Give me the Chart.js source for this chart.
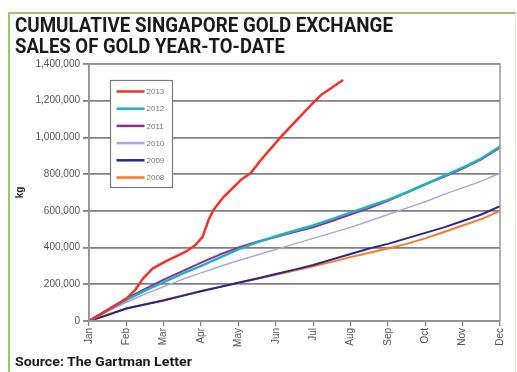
<!DOCTYPE html>
<html>
<head>
<meta charset="utf-8">
<script src="https://cdn.jsdelivr.net/npm/chart.js@4.4.1/dist/chart.umd.min.js"></script>
<style>
html, body { margin: 0; padding: 0; background: #fff; }
body { width: 517px; height: 372px; position: relative; overflow: hidden; }
#frame { position: absolute; left: 8px; top: 12px; width: 508px; height: 400px;
  border-top: 2px solid #9cc66b; border-left: 2px solid #9cc66b; border-right: 1px solid #dde6d2;
  box-sizing: border-box; }
#chart { position: absolute; left: 0; top: 0; }
.txt { position: absolute; left: 15px; white-space: nowrap; transform-origin: 0 0;
  font-family: Roboto, "Liberation Sans", sans-serif; font-weight: bold; color: #1a1a1a; }
#t1 { top: 15px; font-size: 20px; line-height: 20px; }
#t2 { top: 35.5px; font-size: 20px; line-height: 20px; }
#src { top: 355px; font-size: 12px; line-height: 14px; }
</style>
</head>
<body>
<div id="frame"></div>
<canvas id="chart" width="517" height="372"></canvas>
<div class="txt" id="t1" data-w="378">CUMULATIVE SINGAPORE GOLD EXCHANGE</div>
<div class="txt" id="t2" data-w="270">SALES OF GOLD YEAR-TO-DATE</div>
<div class="txt" id="src" data-w="177">Source: The Gartman Letter</div>
<script>
// month labels on the x axis (0 = Jan ... 11 = Dec)
var months = ['Jan', 'Feb', 'Mar', 'Apr', 'May', 'Jun', 'Jul', 'Aug', 'Sep', 'Oct', 'Nov', 'Dec'];

// half-month positions used for 2008-2012
var halfMonths = [0, 0.5, 1, 1.5, 2, 2.5, 3, 3.5, 4, 4.5, 5, 5.5, 6, 6.5, 7, 7.5, 8, 8.5, 9, 9.5, 10, 10.5, 11];

// cumulative sales, thousand kg
var sales2012 = [0, 58, 115, 165, 212, 258, 300, 345, 390, 428, 462, 492, 520, 555, 590, 625, 660, 700, 745, 790, 835, 885, 950];
var sales2011 = [0, 62, 122, 175, 225, 272, 318, 362, 400, 432, 458, 484, 510, 545, 580, 615, 655, 700, 745, 785, 830, 880, 945];
var sales2010 = [0, 52, 102, 147, 187, 227, 262, 297, 330, 360, 390, 420, 450, 480, 510, 545, 580, 615, 650, 690, 725, 762, 805];
var sales2009 = [0, 32, 68, 90, 112, 137, 162, 185, 208, 232, 256, 280, 305, 335, 365, 395, 420, 450, 480, 510, 545, 580, 625];
var sales2008 = [0, 36, 68, 92, 114, 139, 163, 186, 208, 230, 252, 275, 298, 322, 348, 372, 395, 420, 450, 485, 520, 555, 600];

// 2013 runs only to end of July
var months2013 = [0, 0.5, 1, 1.24, 1.45, 1.7, 2.05, 2.58, 2.85, 3.04, 3.2, 3.33, 3.6, 4.06, 4.33, 4.6, 5.13, 5.48, 6.02, 6.21, 6.8];
var sales2013 = [0, 60, 122, 170, 232, 285, 325, 376, 414, 458, 550, 605, 675, 768, 806, 877, 1002, 1078, 1193, 1231, 1313];

function pairs(xs, ys) {
  return ys.map(function(v, i) { return { x: xs[i], y: v * 1000 }; });
}

var boxAndLegend = {
  id: 'boxAndLegend',
  afterDraw: function(chart) {
    var ctx = chart.ctx, a = chart.chartArea;
    ctx.save();
    ctx.strokeStyle = '#9a9a9a';
    ctx.lineWidth = 1.5;
    ctx.strokeRect(a.left, a.top, a.right - a.left, a.bottom - a.top);
    // legend box in the top left of the plot
    var bx = a.left + 21.5, by = a.top + 16.5, bw = 62, bh = 107;
    ctx.fillStyle = '#fff';
    ctx.fillRect(bx, by, bw, bh);
    ctx.strokeStyle = '#7a7a7a';
    ctx.lineWidth = 1.2;
    ctx.strokeRect(bx, by, bw, bh);
    chart.data.datasets.forEach(function(ds, i) {
      var y = by + 11 + i * 17.2;
      ctx.strokeStyle = ds.borderColor;
      ctx.lineWidth = 2.5;
      ctx.beginPath();
      ctx.moveTo(bx + 6, y);
      ctx.lineTo(bx + 34, y);
      ctx.stroke();
      ctx.fillStyle = '#777';
      ctx.font = '8px "Liberation Sans"';
      ctx.textBaseline = 'middle';
      ctx.fillText(ds.label, bx + 36, y + 0.5);
    });
    ctx.restore();
  }
};

var ctx = document.getElementById('chart').getContext('2d');
var chart = new Chart(ctx, {
  type: 'line',
  data: {
    datasets: [{
      label: '2013', data: pairs(months2013, sales2013), borderColor: '#f2312b', borderWidth: 2.5
    }, {
      label: '2012', data: pairs(halfMonths, sales2012), borderColor: '#1fb3bf', borderWidth: 2.5
    }, {
      label: '2011', data: pairs(halfMonths, sales2011), borderColor: '#962a96', borderWidth: 2
    }, {
      label: '2010', data: pairs(halfMonths, sales2010), borderColor: '#ada4e6', borderWidth: 1.5
    }, {
      label: '2009', data: pairs(halfMonths, sales2009), borderColor: '#28288a', borderWidth: 2
    }, {
      label: '2008', data: pairs(halfMonths, sales2008), borderColor: '#ff7820', borderWidth: 2
    }]
  },
  options: {
    responsive: false,
    animation: false,
    layout: { padding: { left: 10, top: 64, right: 17, bottom: 11 } },
    elements: { point: { radius: 0 }, line: { tension: 0, fill: false, borderJoinStyle: 'round' } },
    plugins: { legend: { display: false }, tooltip: { enabled: false } },
    scales: {
      x: {
        type: 'linear', min: 0, max: 11,
        afterFit: function(s) { s.height = 40; },
        border: { color: '#808080', width: 1.5 },
        grid: { drawOnChartArea: false, tickLength: 5, color: '#808080', lineWidth: 1.2 },
        ticks: {
          stepSize: 1, autoSkip: false, minRotation: 90, maxRotation: 90, padding: 2,
          color: '#555', font: { family: 'Liberation Sans', size: 10 },
          callback: function(v) { return months[v]; }
        }
      },
      y: {
        min: 0, max: 1400000,
        afterFit: function(s) { s.width = 79; },
        border: { color: '#808080', width: 1.5 },
        grid: { color: '#808080', lineWidth: 1.8, tickLength: 6 },
        title: { display: true, text: 'kg', color: '#222', font: { family: 'Liberation Sans', size: 10, weight: 'bold' } },
        ticks: {
          stepSize: 200000, padding: 3, color: '#555', font: { family: 'Liberation Sans', size: 10 },
          callback: function(v) { return v.toLocaleString('en-US'); }
        }
      }
    }
  },
  plugins: [boxAndLegend]
});

// squeeze the headline text to the widths seen in the picture
document.querySelectorAll('.txt').forEach(function(el) {
  var w = el.getBoundingClientRect().width;
  el.style.transform = 'scaleX(' + (parseFloat(el.dataset.w) / w) + ')';
});
</script>
</body>
</html>
